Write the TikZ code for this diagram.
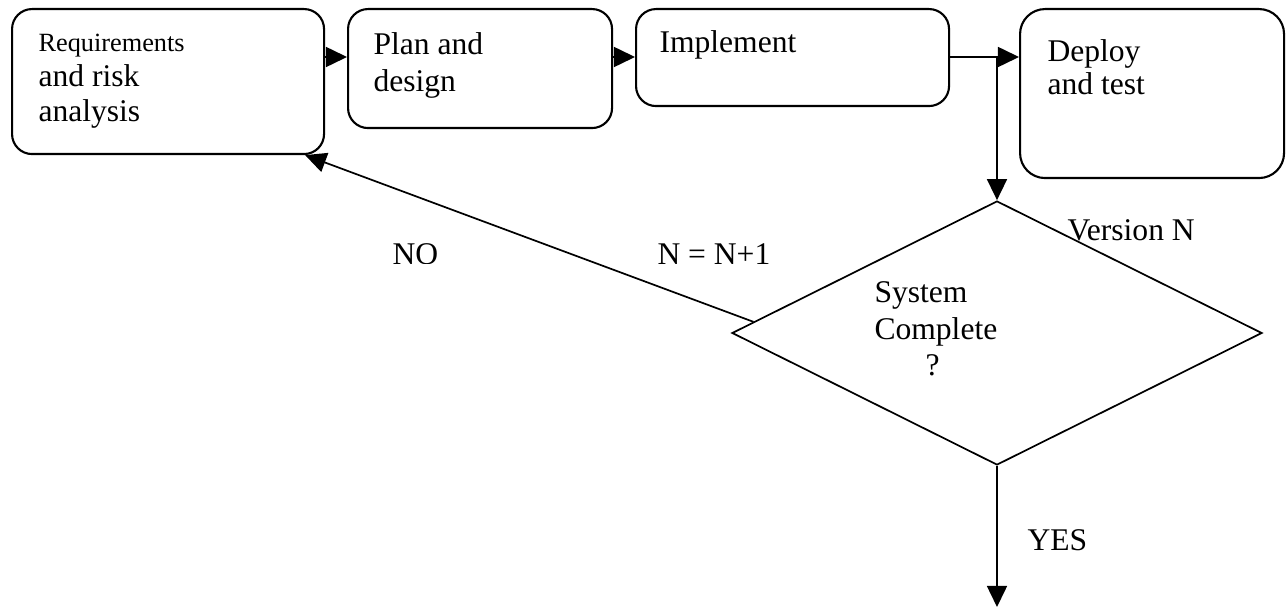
\documentclass[tikz,border=0pt]{standalone}
\usepackage{fontspec}
\setmainfont{Liberation Serif}
\usetikzlibrary{shapes.geometric,arrows.meta,calc}
\newlength\pxu
\setlength\pxu{0.38pt}
\begin{document}
\begin{tikzpicture}[x=0.38pt,y=-0.38pt,
  box/.style={draw,line width=0.8pt,rounded corners=7.6pt,inner sep=0pt,anchor=north west},
  lbl/.style={anchor=base west,inner sep=0pt,font=\fontsize{12}{14}\selectfont},
  smalllbl/.style={anchor=base west,inner sep=0pt,font=\fontsize{10}{12}\selectfont},
  con/.style={line width=0.65pt,-{Triangle[length=8pt,width=7.6pt]}},
  plain/.style={line width=0.65pt}]
\useasboundingbox (0,0) rectangle (1287,607);
% boxes
\node[box,minimum width=312\pxu,minimum height=145\pxu] (req) at (11,8) {};
\node[box,minimum width=264\pxu,minimum height=119\pxu] (plan) at (347,8) {};
\node[box,minimum width=313\pxu,minimum height=97\pxu] (impl) at (635,8) {};
\node[box,rounded corners=9.5pt,minimum width=264\pxu,minimum height=169\pxu] (dep) at (1019,8) {};
% decision
\node[diamond,draw,line width=0.65pt,inner sep=0pt,minimum width=530\pxu,minimum height=264\pxu] (dia) at (997,333) {};
% box texts
\node[smalllbl] (t1) at (38,52) {Requirements};
\node[lbl] (t2) at (38,87) {and risk};
\node[lbl] (t3) at (38,122) {analysis};
\node[lbl] (t4) at (373,55) {Plan and};
\node[lbl] (t5) at (373,92) {design};
\node[lbl] (t6) at (659,53) {Implement};
\node[lbl] (t7) at (1047,62) {Deploy};
\node[lbl] (t8) at (1047,95) {and test};
\node[lbl] (t9) at (874,302) {System};
\node[lbl] (t10) at (874,339) {Complete};
\node[lbl] (t11) at (925,375) {?};
\node[lbl] (t12) at (1067,240) {Version N};
\node[lbl] (t13) at (1027,550) {YES};
\begin{scope}
\clip (370,200) rectangle (790,263);
\node[lbl] (t14) at (392,265) {NO};
\node[lbl] (t15) at (657,265) {N = N+1};
\end{scope}
% connectors
\coordinate (row) at (0,57);
\coordinate (j) at (dia.north |- row);
\draw[con] (req.east |- row) -- (plan.west |- row);
\draw[con] (plan.east |- row) -- (impl.west |- row);
\draw[con] (impl.east |- row) -- (dep.west |- row);
\draw[con] (j) -- (dia.north);
\coordinate (fb) at ($(dia.west)!0.084!(dia.north)$);
\coordinate (fbt) at ($(req.south east)+(-20,0)$);
\draw[con] (fb) -- (fbt);
\coordinate (yesend) at (dia.south |- 0,607);
\draw[con] (dia.south) -- (yesend);
\end{tikzpicture}
\end{document}
